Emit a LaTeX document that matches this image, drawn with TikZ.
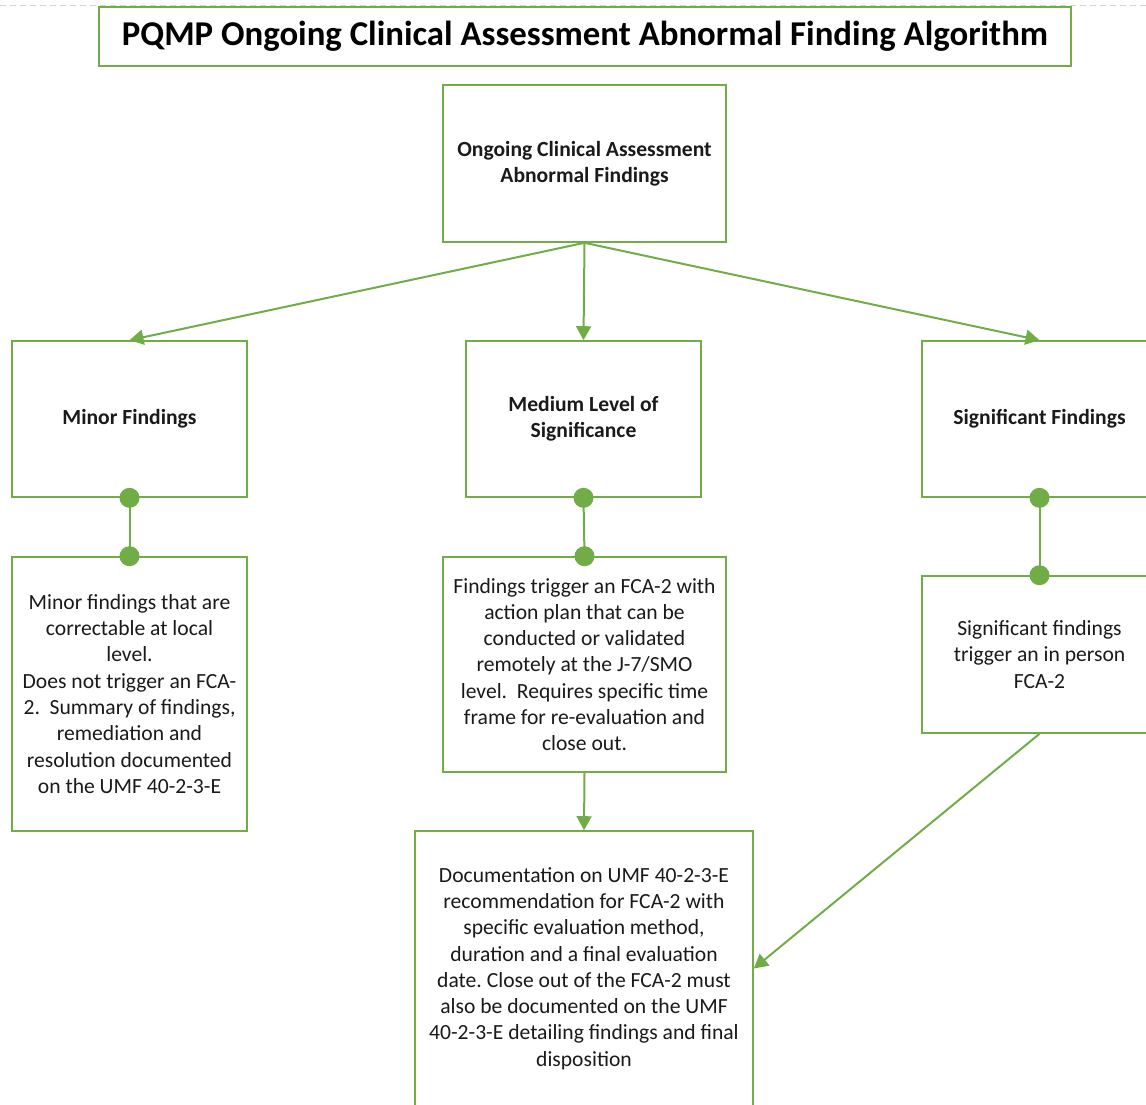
\documentclass[tikz,border=0pt]{standalone}
\usepackage{fontspec}
\setmainfont{Carlito}
\usetikzlibrary{arrows.meta}
\definecolor{lgreen}{HTML}{70AD47}
\definecolor{txt}{HTML}{1A1A1A}
\frenchspacing
\begin{document}
\begin{tikzpicture}[x=1pt,y=-1pt,
  box/.style={draw=lgreen,line width=1.6pt,fill=white,inner sep=0pt,align=center,text=txt,
    font=\fontsize{21.6}{26.3}\selectfont},
  hbox/.style={box,font=\bfseries\fontsize{21.6}{26.3}\selectfont},
  conn/.style={draw=lgreen,line width=2pt,-{Triangle[length=14pt,width=15pt]}},
  dotline/.style={draw=lgreen,line width=2pt},
  dotfill/.style={fill=lgreen}]
\useasboundingbox (0,0) rectangle (1146,1104);
\clip (0,0) rectangle (1146,1104);
\draw[gray!35,line width=0.8pt,dash pattern=on 6pt off 4pt] (0,5) coordinate (dl) -- (1146,5) coordinate (dr);
% title
\node[box,minimum width=972pt,minimum height=59pt,font=\bfseries\fontsize{34.8}{40}\selectfont,text=black] (title) at (585,36.5)
  {PQMP Ongoing Clinical Assessment Abnormal Finding Algorithm};
% top
\node[hbox,minimum width=283pt,minimum height=157pt] (top) at (584.5,163.5)
  {Ongoing Clinical Assessment\\Abnormal Findings};
% level 2
\node[hbox,minimum width=235pt,minimum height=156pt] (minor) at (129.5,419) {Minor Findings};
\node[hbox,minimum width=235pt,minimum height=156pt] (medium) at (583.5,419) {Medium Level of\\Significance};
\node[hbox,minimum width=235pt,minimum height=156pt] (sig) at (1039.5,419) {Significant Findings};
% level 3
\node[box,minimum width=235pt,minimum height=274pt] (minorb) at (129.5,694)
  {Minor findings that are\\correctable at local\\level.\\Does not trigger an FCA-\\2.\ \ Summary of findings,\\remediation and\\resolution documented\\on the UMF 40-2-3-E};
\node[box,minimum width=283pt,minimum height=215pt] (mediumb) at (584.5,664.5)
  {Findings trigger an FCA-2 with\\action plan that can be\\conducted or validated\\remotely at the J-7/SMO\\level.\ \ Requires specific time\\frame for re-evaluation and\\close out.};
\node[box,minimum width=235pt,minimum height=157pt] (sigb) at (1039.5,654.5)
  {Significant findings\\trigger an in person\\FCA-2};
% bottom
\node[box,minimum width=338pt,minimum height=275pt] (bot) at (584,968.5)
  {Documentation on UMF 40-2-3-E\\recommendation for FCA-2 with\\specific evaluation method,\\duration and a final evaluation\\date. Close out of the FCA-2 must\\also be documented on the UMF\\40-2-3-E detailing findings and final\\disposition};
% connectors
\draw[conn] (top.south) -- (minor.north);
\draw[conn] (top.south) -- (medium.north);
\draw[conn] (top.south) -- (sig.north);
\draw[conn] (mediumb.south) -- (bot.north);
\draw[conn] (sigb.south) -- (bot.east);
\draw[dotline] (minor.south) -- (minorb.north);
\draw[dotline] (medium.south) -- (mediumb.north);
\draw[dotline] (sig.south) -- (sigb.north);
\foreach \p in {minor.south,minorb.north,medium.south,mediumb.north,sig.south,sigb.north}{
  \fill[dotfill] (\p) circle (10pt);
}
\end{tikzpicture}
\end{document}
